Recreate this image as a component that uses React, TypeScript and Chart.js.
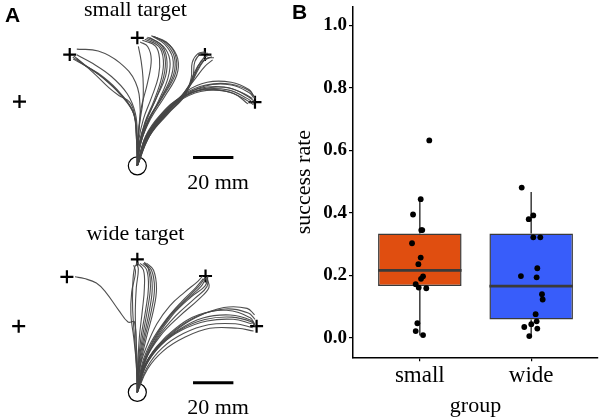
import React, { useEffect, useRef } from "react";
import { Chart, registerables } from "chart.js";
Chart.register(...registerables);

// ---------------- Panel B data ----------------
const groups = ["small", "wide"];
const boxQ1 = [0.165, 0.058];
const boxMedian = [0.215, 0.165];
const boxQ3 = [0.333, 0.333];
const whiskerLow = [0.007, 0.005];
const whiskerHigh = [0.443, 0.466];
const boxColors = ["#E04E10", "#385DFA"];
const yTicks = [0, 0.2, 0.4, 0.6, 0.8, 1.0];

const smallRates = [0.631, 0.443, 0.394, 0.344, 0.344, 0.302, 0.256, 0.235, 0.196, 0.188, 0.171, 0.16, 0.158, 0.046, 0.021, 0.008];
const smallJitter = [0.085, 0.008, -0.061, 0.022, 0.013, -0.07, 0.008, -0.013, 0.029, 0.011, -0.037, -0.01, 0.058, -0.022, -0.037, 0.029];
const wideRates = [0.48, 0.391, 0.379, 0.321, 0.321, 0.222, 0.197, 0.193, 0.139, 0.122, 0.075, 0.052, 0.043, 0.034, 0.029, 0.005];
const wideJitter = [-0.085, 0.019, -0.022, 0.019, 0.082, 0.055, -0.092, 0.049, 0.097, 0.103, 0.04, 0.049, 0.001, -0.062, 0.055, -0.017];

// ---------------- Panel A data (mm, origin = start circle) ----------------
const smallTargetsX = [-58.4, -33.5, 0, 33.5, 58.3];
const smallTargetsY = [33, 57.1, 65.7, 57.1, 32.7];
const wideTargetsX = [-58.8, -34.9, 0, 33.8, 59.1];
const wideTargetsY = [33.8, 59, 67.9, 59.4, 33.8];
const scaleBarSmall = [[27.6, 4.3], [47.6, 4.3]];
const scaleBarWide = [[27.6, 4.9], [47.6, 4.9]];

const smallTopPaths = [
  [[0, 0], [1.4, 10.6], [5.1, 22.1], [10.6, 33.6], [15.2, 45.2], [16.1, 54.4], [12.9, 61.3], [6, 65.9]],
  [[0, 0], [0.9, 10.6], [3.7, 22.1], [8.3, 33.6], [12, 45.2], [12.9, 54.4], [10.6, 61.3], [3.7, 65]],
  [[0, 0], [1.4, 12.9], [6, 24.4], [12.9, 35.9], [18.9, 47.5], [18.9, 56.7], [14.3, 63.6], [6.9, 66.8]],
  [[0, 0], [0.5, 15.2], [1.8, 29], [5.1, 42.9], [6.9, 54.4], [5.1, 61.3], [1.4, 63.6]],
  [[0, 0], [1.2, 12], [4.5, 23], [9.5, 35], [14, 46], [14.5, 55.5], [11.5, 62.5], [5, 66]],
  [[0, 0], [1.6, 11.5], [5.8, 23.5], [11.8, 35], [17, 46.5], [17.5, 55.5], [13.5, 62.5], [7.5, 66.5]],
  [[0, 0], [0.9, 19.8], [2.8, 33.6], [2.8, 45.2], [1.8, 54.4], [0.5, 61.3]],
  [[0, 0], [1.8, 12], [6.5, 24], [13.5, 35.5], [19.5, 46.5], [20, 55], [16, 62], [9, 66]],
  [[0, 0], [1, 11], [4, 22.5], [9, 34], [13, 45.5], [13.8, 55], [11, 62], [4.5, 65.5]],
  [[0, 0], [1.5, 12.5], [5.5, 24], [12.3, 35.5], [18, 47], [18.3, 56], [14, 63], [8, 66.5]],
  [[0, 0], [0.7, 13], [3, 24], [7, 35], [10.5, 46], [11, 55], [9, 61.5], [2.5, 64.5]],
];
const smallUpperRightPaths = [
  [[0, 0], [3.7, 12.9], [10.6, 24.4], [19.8, 33.6], [25.3, 40.6], [28.1, 47.5], [31.3, 53], [35.9, 55.8]],
  [[0, 0], [4.6, 14.3], [12.9, 25.3], [22.1, 35.9], [29, 45.2], [33.6, 51.2], [37.3, 54.4]],
  [[0, 0], [6, 15.2], [15.2, 26.7], [23.5, 35.9], [26.7, 45.2], [27.2, 53], [30, 57.6], [33.6, 58.5]],
  [[0, 0], [5, 14], [13.5, 25.5], [22.5, 35], [27.5, 44], [30, 51], [33, 55.5], [36, 57]],
  [[0, 0], [4, 13.5], [11.5, 24.5], [20.5, 34], [26, 42], [29.5, 49], [33, 54], [37, 56]],
  [[0, 0], [4.3, 13.8], [12.2, 25], [21.3, 34.8], [27, 43], [30.5, 50], [34, 55], [38, 55.5]],
  [[0, 0], [5.5, 14.8], [14.5, 26.3], [23, 36], [27.5, 45.5], [28.5, 53.5], [31.5, 57.5], [35, 57.8]],
];
const smallRightPaths = [
  [[0, 0], [3.7, 12.9], [10.6, 23.5], [19.8, 32.7], [31.3, 38.2], [44.2, 38.2], [54.4, 33.6], [57.6, 31.3]],
  [[0, 0], [5.1, 14.3], [12.9, 25.3], [22.1, 34.6], [33.6, 41], [46.5, 41.5], [55.8, 37.3], [57.6, 35]],
  [[0, 0], [4.1, 15.2], [11.5, 26.3], [22.1, 35.5], [34.6, 39.2], [47.5, 37.3], [54.8, 31.8]],
  [[0, 0], [4.4, 14.5], [12, 25.5], [21, 34], [32.5, 39.5], [45.5, 40], [55, 35.5], [58, 33]],
  [[0, 0], [3.5, 13.5], [10, 24], [19, 33.5], [30, 39.5], [43, 40.5], [53, 37], [57, 34.5]],
  [[0, 0], [6, 15.2], [15.2, 28.1], [24.4, 38.2], [34.6, 42.9], [46.5, 42.9], [55.3, 39.2], [57.6, 35.9]],
  [[0, 0], [4.8, 14.8], [13.2, 26.8], [23.2, 36.8], [34, 41.5], [46, 42], [55.5, 38.5], [58.5, 34.5]],
  [[0, 0], [3.9, 13.8], [11, 25], [20.5, 34], [31.5, 39], [44.8, 39], [54.6, 34.5], [57.8, 32]],
];
const smallUpperLeftPaths = [
  [[0, 0], [-0.5, 15.2], [-1.8, 26.7], [-7.8, 35.9], [-17.1, 45.2], [-26.3, 52.1], [-31.8, 56.7]],
  [[0, 0], [-0.5, 15.2], [-2.3, 28.1], [-10.1, 39.2], [-19.4, 47.5], [-28.6, 53], [-31.8, 54.8]],
  [[0, 0], [0.5, 15.2], [1.4, 29], [-0.9, 42.9], [-8.8, 53], [-19.4, 59], [-30, 59.9]],
  [[0, 0], [0, 15], [-1, 27], [-5, 37], [-13, 46], [-22, 52.5], [-30, 57]],
  [[0, 0], [-0.3, 15], [-1.5, 27], [-4, 33], [-9, 36], [-14, 40], [-22, 48], [-30, 55]],
  [[0, 0], [-0.3, 15], [-2, 27.5], [-9, 37.5], [-18.3, 46.3], [-27.5, 52.5], [-32, 55.8]],
];

const wideTopPaths = [
  [[0, 0], [-0.5, 14.3], [-1.4, 28.1], [-2.3, 41.9], [-2.3, 53.5], [-1.4, 63.6], [0.5, 66.4]],
  [[0, 0], [0.9, 14.3], [3.2, 28.1], [6, 41.9], [7.4, 53.5], [6, 62.7], [2.8, 65.9]],
  [[0, 0], [0.5, 14.3], [1.8, 28.1], [4.1, 41.9], [5.5, 53.5], [4.6, 62.7], [1.4, 65.9]],
  [[0, 0], [-0.5, 14.3], [-1.8, 28.1], [-3.2, 39.6], [-2.8, 51.2], [-0.9, 61.3], [-1.8, 65]],
  [[0, 0], [0.3, 14.3], [1, 28], [2.5, 42], [3.5, 53.5], [3, 62.5], [0, 66]],
  [[0, 0], [0.7, 14], [2.5, 28], [5, 42], [6.5, 54], [5.5, 63], [3.5, 66.5]],
  [[0, 0], [1.5, 14], [4.5, 28], [8, 42], [9.5, 53], [8, 62.5], [4.5, 66]],
  [[0, 0], [0, 14.3], [-0.7, 28], [-1, 41.9], [-0.5, 53.5], [0.5, 63], [-0.5, 66]],
  [[0, 0], [1.2, 14.2], [3.8, 28], [7, 42], [8.5, 53.3], [7, 62.5], [3.5, 66]],
];
const wideUpperRightPaths = [
  [[0, 0], [2.3, 14.3], [6.9, 25.8], [14.3, 37.3], [22.1, 46.5], [29, 53.5], [32.7, 58.1]],
  [[0, 0], [3.7, 15.2], [9.7, 28.1], [17.5, 39.6], [26.7, 48.8], [33.6, 54.4], [35, 59.4]],
  [[0, 0], [1.4, 13.4], [4.6, 23.5], [9.7, 35], [16.1, 44.2], [23.5, 51.2], [30, 56.7], [32.3, 59.4]],
  [[0, 0], [4.1, 16.6], [11.5, 29], [20.7, 38.7], [30.4, 47.5], [35.5, 53.5], [34.6, 58.1]],
  [[0, 0], [3, 14.8], [8.5, 27], [16, 38.5], [24.5, 47.5], [31.5, 54], [34, 58.5]],
  [[0, 0], [2.8, 14.5], [7.8, 26.5], [15.2, 38], [23.3, 47], [30.2, 53.8], [33.5, 58.5]],
  [[0, 0], [3.5, 15.5], [10.5, 28.5], [19, 39], [28.5, 48], [34.5, 54], [34.8, 59]],
];
const wideRightPaths = [
  [[0, 0], [3.7, 13.4], [9.7, 23.5], [18.9, 32.7], [30.4, 39.6], [44.2, 41.9], [55.8, 38.2], [58.1, 35]],
  [[0, 0], [4.6, 14.3], [12, 24.4], [22.1, 31.8], [34.6, 36.4], [47.5, 37.3], [56.7, 35]],
  [[0, 0], [5.1, 12], [12.9, 21.2], [23.5, 28.1], [35.9, 32.7], [49.8, 32.7], [57.6, 31.3]],
  [[0, 0], [2.8, 12], [8.3, 21.2], [17.5, 30.4], [29, 38.2], [42.9, 43.3], [54.4, 42.9], [58.1, 39.6]],
  [[0, 0], [4, 13.5], [11, 24], [20.5, 32], [32.5, 38], [46, 39.5], [56, 37], [58.5, 34]],
  [[0, 0], [4.3, 13.8], [11.5, 24], [21.3, 32], [33.5, 37.2], [46.8, 38.4], [56.4, 36], [58.5, 33.5]],
  [[0, 0], [3.3, 12.7], [9, 22.3], [18.2, 31.5], [29.7, 38.9], [43.5, 42.6], [55, 40.5], [58.3, 37.3]],
  [[0, 0], [4.8, 12.7], [12.4, 22.7], [22.8, 30], [35.2, 34.5], [48.6, 35], [57.2, 33]],
];
const wideUpperLeftPaths = [
  [[0, 0], [-0.5, 18], [-1.4, 35.9], [-4.6, 35.9], [-9.2, 41.9], [-15.7, 51.2], [-20.3, 55.8], [-26.3, 58.1], [-30.9, 59]],
];

const TRAJ_COLOR = "rgba(70,70,70,0.95)";

type Pt = number[];

function TrajectoryPanel(props: {
  paths: Pt[][];
  tx: number[];
  ty: number[];
  bar: Pt[];
  xMin: number; xMax: number; yMin: number; yMax: number;
  width: number; height: number;
}) {
  const ref = useRef<HTMLCanvasElement>(null);
  useEffect(() => {
    const datasets: any[] = [];
    props.paths.forEach((p) => {
      datasets.push({
        data: p.map(([x, y]) => ({ x, y })),
        showLine: true,
        borderColor: TRAJ_COLOR,
        borderWidth: 1.1,
        pointRadius: 0,
        tension: 0.4,
        clip: false,
      });
    });
    datasets.push({
      data: props.tx.map((x, i) => ({ x, y: props.ty[i] })),
      showLine: false,
      pointStyle: "cross",
      pointRadius: 6.5,
      pointBorderWidth: 2.2,
      pointBorderColor: "#000",
      clip: false,
    });
    datasets.push({
      data: [{ x: 0, y: 0 }],
      showLine: false,
      pointStyle: "circle",
      pointRadius: 9,
      pointBorderWidth: 1.2,
      pointBorderColor: "#000",
      pointBackgroundColor: "rgba(0,0,0,0)",
      clip: false,
    });
    datasets.push({
      data: props.bar.map(([x, y]) => ({ x, y })),
      showLine: true,
      borderColor: "#000",
      borderWidth: 3,
      pointRadius: 0,
      clip: false,
    });
    const chart = new Chart(ref.current!, {
      type: "scatter",
      data: { datasets },
      options: {
        animation: false,
        responsive: false,
        events: [],
        layout: { padding: 0 },
        plugins: { legend: { display: false }, tooltip: { enabled: false } },
        scales: {
          x: { type: "linear", display: false, min: props.xMin, max: props.xMax },
          y: { type: "linear", display: false, min: props.yMin, max: props.yMax },
        },
      },
    });
    return () => chart.destroy();
  }, []);
  return <canvas ref={ref} width={props.width} height={props.height} style={{ width: props.width, height: props.height, display: "block" }} />;
}

function BoxPanel() {
  const ref = useRef<HTMLCanvasElement>(null);
  useEffect(() => {
    const datasets: any[] = [];
    const pts = [
      ...smallRates.map((y, i) => ({ x: 1 + smallJitter[i], y })),
      ...wideRates.map((y, i) => ({ x: 2 + wideJitter[i], y })),
    ];
    datasets.push({
      type: "scatter",
      data: pts,
      pointRadius: 2.9,
      pointBackgroundColor: "#000",
      pointBorderWidth: 0,
      order: 0,
    });
    groups.forEach((g, i) => {
      datasets.push({
        type: "line",
        data: [{ x: i + 1 - 0.375, y: boxMedian[i] }, { x: i + 1 + 0.375, y: boxMedian[i] }],
        borderColor: "#3a3a3a",
        borderWidth: 2.8,
        pointRadius: 0,
        order: 1,
      });
    });
    datasets.push({
      type: "bar",
      data: groups.map((g, i) => ({ x: i + 1, y: [boxQ1[i], boxQ3[i]] })),
      backgroundColor: boxColors,
      borderColor: "#3a3a3a",
      borderWidth: 1.5,
      borderSkipped: false,
      categoryPercentage: 1,
      barPercentage: 0.75,
      order: 2,
    });
    groups.forEach((g, i) => {
      datasets.push({
        type: "line",
        data: [{ x: i + 1, y: boxQ3[i] }, { x: i + 1, y: whiskerHigh[i] }],
        borderColor: "#3a3a3a",
        borderWidth: 1.5,
        pointRadius: 0,
        order: 3,
      });
      datasets.push({
        type: "line",
        data: [{ x: i + 1, y: boxQ1[i] }, { x: i + 1, y: whiskerLow[i] }],
        borderColor: "#3a3a3a",
        borderWidth: 1.5,
        pointRadius: 0,
        order: 3,
      });
    });
    const chart = new Chart(ref.current!, {
      type: "bar",
      data: { datasets },
      options: {
        animation: false,
        responsive: false,
        events: [],
        layout: { padding: { top: 7, right: 5, bottom: 0, left: 0 } },
        plugins: { legend: { display: false }, tooltip: { enabled: false } },
        scales: {
          x: {
            type: "linear",
            min: 0.4,
            max: 2.6,
            offset: false,
            afterBuildTicks: (s: any) => { s.ticks = groups.map((_, i) => ({ value: i + 1 })); },
            afterFit: (s: any) => { s.height = 62.7; s.paddingLeft = 0; s.paddingRight = 0; },
            ticks: {
              autoSkip: false,
              maxRotation: 0,
              padding: 1,
              color: "#000",
              font: { family: "Liberation Serif", size: 23 },
              callback: (v: any) => groups[Math.round(Number(v)) - 1] ?? "",
            },
            grid: { display: true, offset: false, drawOnChartArea: false, drawTicks: true, tickLength: 4, color: "#000", lineWidth: 1.2 },
            border: { display: true, color: "#000", width: 1.5 },
            title: { display: true, text: "group", color: "#000", font: { family: "Liberation Serif", size: 22 }, padding: { top: 0, bottom: 1 } },
          },
          y: {
            type: "linear",
            min: -0.063,
            max: 1.058,
            beginAtZero: false,
            afterBuildTicks: (s: any) => { s.ticks = yTicks.map((v) => ({ value: v })); },
            afterFit: (s: any) => { s.width = 63; s.paddingTop = 0; s.paddingBottom = 0; },
            ticks: {
              autoSkip: false,
              padding: 2,
              color: "#000",
              font: { family: "Liberation Serif", size: 19, weight: "bold" },
              callback: (v: any) => Number(v).toFixed(1),
            },
            grid: { display: true, drawOnChartArea: false, drawTicks: true, tickLength: 4, color: "#000", lineWidth: 1.2 },
            border: { display: true, color: "#000", width: 1.5 },
            title: { display: true, text: "success rate", color: "#000", font: { family: "Liberation Serif", size: 22 }, padding: { top: 1, bottom: 0 } },
          },
        },
      },
    });
    return () => chart.destroy();
  }, []);
  return <canvas ref={ref} width={313} height={420} style={{ width: 313, height: 420, display: "block" }} />;
}

const serif = "'Liberation Serif', 'Times New Roman', serif";
const sans = "'Liberation Sans', Arial, sans-serif";

function Label(props: { text: string; left: number; top: number; width?: number; size: number; bold?: boolean; family: string; align?: any }) {
  return (
    <div
      style={{
        position: "absolute",
        left: props.left,
        top: props.top,
        width: props.width,
        textAlign: props.align || "left",
        fontFamily: props.family,
        fontSize: props.size,
        fontWeight: props.bold ? 700 : 400,
        lineHeight: `${props.size}px`,
        whiteSpace: "nowrap",
        color: "#000",
      }}
    >
      {props.text}
    </div>
  );
}

export default function App() {
  return (
    <div style={{ position: "absolute", left: 0, top: 0, width: 603, height: 420, background: "#fff", overflow: "hidden" }}>
      <div style={{ position: "absolute", left: 0, top: 0 }}>
        <TrajectoryPanel
          paths={[...smallTopPaths, ...smallUpperRightPaths, ...smallRightPaths, ...smallUpperLeftPaths]}
          tx={smallTargetsX}
          ty={smallTargetsY}
          bar={scaleBarSmall}
          xMin={-63} xMax={70.6} yMin={-12.3} yMax={79.9}
          width={290} height={200}
        />
      </div>
      <div style={{ position: "absolute", left: 0, top: 210 }}>
        <TrajectoryPanel
          paths={[...wideTopPaths, ...wideUpperRightPaths, ...wideRightPaths, ...wideUpperLeftPaths]}
          tx={wideTargetsX}
          ty={wideTargetsY}
          bar={scaleBarWide}
          xMin={-63} xMax={70.6} yMin={-8.9} yMax={87.9}
          width={290} height={210}
        />
      </div>
      <div style={{ position: "absolute", left: 290, top: 0 }}>
        <BoxPanel />
      </div>
      <Label text="A" left={5} top={4} size={21} bold family={sans} />
      <Label text="B" left={292} top={0.5} size={21} bold family={sans} />
      <Label text="small target" left={35.5} top={-1.7} width={200} align="center" size={22} family={serif} />
      <Label text="wide target" left={35.5} top={221.6} width={200} align="center" size={22} family={serif} />
      <Label text="20 mm" left={168} top={171} width={100} align="center" size={22} family={serif} />
      <Label text="20 mm" left={168} top={395.6} width={100} align="center" size={22} family={serif} />
    </div>
  );
}
